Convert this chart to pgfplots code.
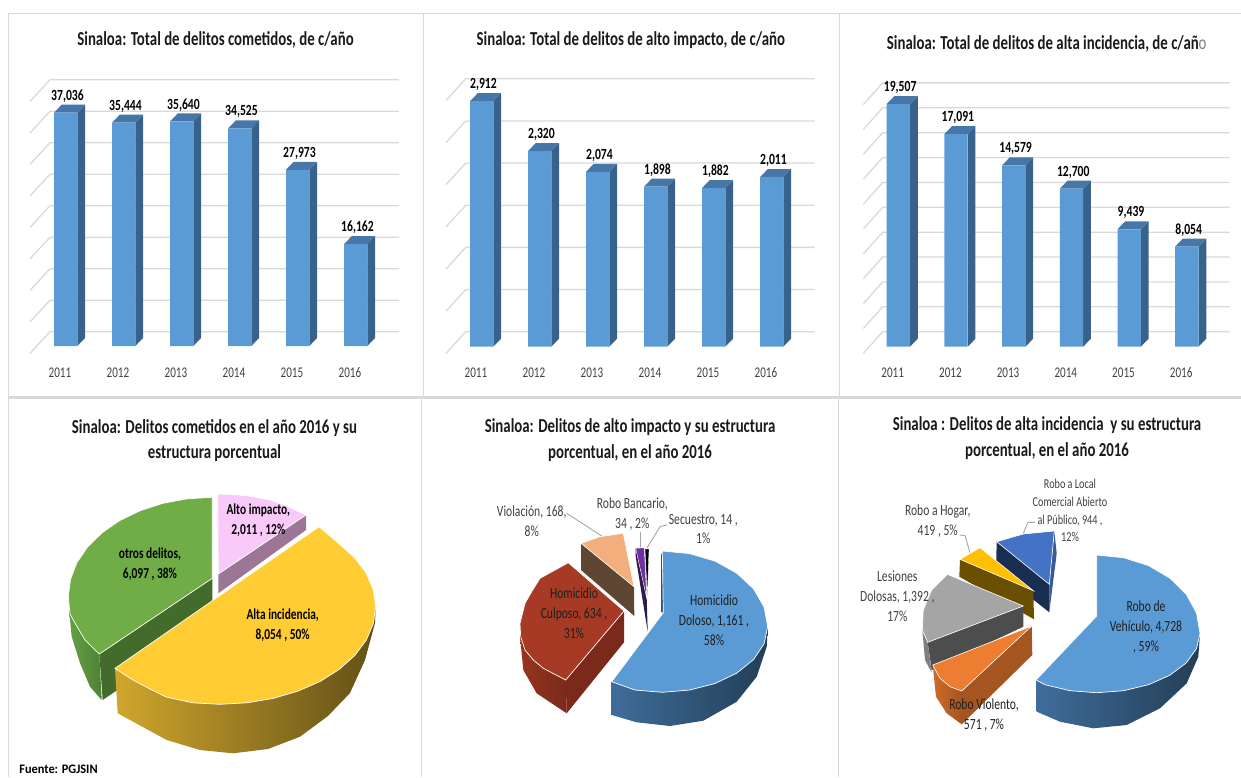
\documentclass[border=0pt]{standalone}
\usepackage{fontspec}
\setmainfont[FakeStretch=0.75]{Carlito}
\newfontfamily\srcfont[FakeStretch=0.95]{Carlito}
\usepackage{pgfplots}
\pgfplotsset{compat=1.18}

\definecolor{gridc}{HTML}{D9D9D9}
\definecolor{framec}{HTML}{D9D9D9}
\definecolor{barf}{HTML}{5B9BD5}
\definecolor{bars}{HTML}{39628A}
\definecolor{bart}{HTML}{4677A8}
\definecolor{lblc}{HTML}{404040}
\definecolor{titc}{HTML}{1A1A1A}
\definecolor{facec}{HTML}{1F1F1F}

% one filled or stroked outline, points in page pixels
\newcommand{\poly}[2]{\addplot[#1] coordinates {#2};}
% text at x, baseline y
\newcommand{\lbl}[4]{\node[anchor=base,inner sep=0pt,text=#3] at (axis cs:#1,#2) {#4};}
\newcommand{\ttl}[3]{\lbl{#1}{#2}{titc}{\fontsize{19.8}{19.8}\selectfont\bfseries #3}}
\newcommand{\lab}[3]{\lbl{#1}{#2}{lblc}{\fontsize{15.5}{15.5}\selectfont #3}}
\newcommand{\labs}[3]{\lbl{#1}{#2}{lblc}{\fontsize{13.6}{13.6}\selectfont #3}}
\newcommand{\labd}[3]{\lbl{#1}{#2}{facec}{\fontsize{15.5}{15.5}\selectfont #3}}
\newcommand{\labb}[3]{\lbl{#1}{#2}{black}{\fontsize{15.2}{15.2}\selectfont\bfseries #3}}

% back wall line of the 3d column charts
\newcommand{\wall}[1]{%
  \begingroup
  \pgfkeys{/pgf/fpu=true,/pgf/fpu/output format=fixed}%
  \pgfmathparse{#1+\wup}\xdef\wya{\pgfmathresult}%
  \pgfmathparse{#1+\wup-\wdn}\xdef\wyb{\pgfmathresult}%
  \endgroup
  \edef\tmp{\noexpand\addplot[gridc,line width=1.3pt] coordinates {(\wxa,\wyb) (\wxb,\wya) (\wxc,\wya)};}\tmp
}
% side and top of one column
\newcommand{\tdbar}[2]{%
  \begingroup
  \pgfkeys{/pgf/fpu=true,/pgf/fpu/output format=fixed}%
  \pgfmathparse{#2+\dyy}\xdef\vt{\pgfmathresult}%
  \pgfmathparse{#1+\bw}\xdef\xr{\pgfmathresult}%
  \pgfmathparse{#1-\bw}\xdef\xl{\pgfmathresult}%
  \pgfmathparse{#1+\bw+\dxx}\xdef\xrr{\pgfmathresult}%
  \pgfmathparse{#1-\bw+\dxx}\xdef\xll{\pgfmathresult}%
  \endgroup
  \edef\tmp{\noexpand\addplot[fill=bars,draw=none] coordinates {(\xr,0) (\xrr,\dyy) (\xrr,\vt) (\xr,#2)};
    \noexpand\addplot[fill=bart,draw=none] coordinates {(\xl,#2) (\xr,#2) (\xrr,\vt) (\xll,\vt)};}\tmp
}

\pgfplotsset{
  barpanel/.style={
    scale only axis,anchor=south west,clip=false,
    axis line style={draw=none},tick style={draw=none},
    ytick=\empty,xtick={0,1,2,3,4,5},
    xticklabels={2011,2012,2013,2014,2015,2016},
    xticklabel style={anchor=base,yshift=-18pt,xshift=-5.7pt,font=\fontsize{14.8}{14.8}\selectfont,text=lblc},
  },
  frontbars/.style={
    ybar,bar width=23.3pt,fill=barf,draw=none,
    nodes near coords,
    /pgf/number format/.cd,fixed,precision=0,1000 sep={,},assume math mode=true,
    /pgfplots/.cd,
    nodes near coords style={anchor=center,yshift=16.7pt,xshift=1.8pt,text=black,
      font=\fontsize{15.5}{15.5}\selectfont\bfseries},
  },
}

\begin{document}
\begin{tikzpicture}[x=1pt,y=1pt]
\useasboundingbox (0,0) rectangle (1241pt,777pt);

% page layer: frames and the three pies, in pixels of the reference
\begin{axis}[at={(0pt,0pt)},anchor=south west,scale only axis,width=1241pt,height=777pt,
  xmin=0,xmax=1241,ymin=0,ymax=777,y dir=reverse,hide axis,clip=false]
\poly{framec,line width=1pt}{(8,13) (1241,13)}
\poly{framec,line width=1pt}{(8,13) (8,777)}
\poly{framec,line width=1pt}{(423,13) (423,397)}
\poly{framec,line width=1pt}{(839,13) (839,397)}
\poly{framec,line width=1pt}{(421.7,397) (421.7,777)}
\poly{framec,line width=1pt}{(838,397) (838,777)}
\poly{framec,line width=3pt}{(8,397) (1241,397)}

\ttl{215.5}{45.5}{Sinaloa: Total de delitos cometidos, de c/año}
\ttl{630.8}{45.5}{Sinaloa: Total de delitos de alto impacto, de c/año}
\ttl{1046.7}{49}{Sinaloa: Total de delitos de alta incidencia, de c/añ{\color{gray}\mdseries o}}
\ttl{214.5}{433}{Sinaloa: Delitos cometidos en el año 2016 y su}
\ttl{214.5}{458}{estructura porcentual}
\ttl{630}{432}{Sinaloa: Delitos de alto impacto y su estructura}
\ttl{630}{458}{porcentual, en el año 2016}
\ttl{1047}{430}{Sinaloa : Delitos de alta incidencia\, y su estructura}
\ttl{1047}{456}{porcentual, en el año 2016}

% pie 1
\poly{fill={rgb,255:red,155;green,118;blue,150},draw=none}{(218.3,574) (306,515) (306,530) (218.3,593.3)}
\poly{fill={rgb,255:red,249;green,201;blue,250},draw=white,line width=.7pt}{(218.3,574) (217.7,494) (235,494.5) (252,496.5) (270,500) (288,506.5) (306,515) (218.3,574)}
\poly{left color={rgb,255:red,100;green,160;blue,68},right color={rgb,255:red,78;green,130;blue,52},draw=none}{(69,600) (69,610) (71.7,636.7) (80,663) (90,686.7) (101.7,700) (99.3,654)}
\poly{fill={rgb,255:red,67;green,107;blue,43},draw=none}{(212.3,578.3) (99.3,654) (102.7,700) (212.3,625)}
\poly{fill={rgb,255:red,112;green,173;blue,71},draw=white,line width=.7pt}{(212.3,578.3) (212.3,497.3) (187.3,498.8) (163,503.3) (140.3,510.6) (119.7,520.6) (102,532.8) (87.6,547) (76.9,562.7) (70.5,579.4) (68.3,596.7) (70,614) (75,623) (85,640) (99.3,654) (212.3,578.3)}
\poly{left color={rgb,255:red,208;green,166;blue,44},middle color={rgb,255:red,135;green,105;blue,31},right color={rgb,255:red,98;green,80;blue,24},draw=none}{(115,668.3) (117.7,713.3) (166.7,740) (200,750) (233,753.3) (268,749) (300,736.7) (328,716) (350,693) (365,660) (375,623) (375.7,606.7)}
\poly{fill={rgb,255:red,255;green,205;blue,51},draw=white,line width=.7pt}{(319,526.7) (339.2,543.9) (354.8,557.9) (366.3,573.3) (373.3,589.7) (375.7,606.7) (373.3,623.7) (366.3,640.1) (354.8,655.5) (339.2,669.4) (320,681.5) (297.7,691.2) (273.1,698.4) (246.8,702.8) (219.7,704.3) (192.6,702.8) (166.3,697) (150,689) (133,680) (115,668.3) (319,526.7)}
\labb{258.3}{514.5}{Alto impacto,}
\labb{258.3}{534.5}{2,011 , 12\%}
\labb{150}{558.5}{otros delitos,}
\labb{150}{578}{6,097 , 38\%}
\labb{282.7}{619.5}{Alta incidencia,}
\labb{282.7}{639.5}{8,054 , 50\%}
\lbl{58.5}{773.5}{black}{\srcfont\fontsize{13}{13}\selectfont\bfseries Fuente: PGJSIN}

% pie 2
\poly{gray!70,line width=.9pt}{(566.7,513.3) (601.7,536)}
\poly{gray!70,line width=.9pt}{(640,531.7) (640,547.3)}
\poly{gray!70,line width=.9pt}{(666.7,525) (660,526.7) (646.7,548.3)}
\poly{fill={rgb,255:red,95;green,70;blue,50},draw=none}{(581,543.3) (634,586.7) (634.3,616) (581,570)}
\poly{fill={rgb,255:red,242;green,174;blue,124},draw=white,line width=.6pt}{(581,543.3) (600,536.7) (623.3,533.3) (634,586.7) (581,543.3)}
\poly{fill={rgb,255:red,42;green,26;blue,78},draw=none}{(635.7,548.3) (646.7,598.3) (647.7,631.7) (635.7,556.7)}
\poly{fill={rgb,255:red,112;green,48;blue,160},draw=white,line width=.4pt}{(635.7,548.3) (644.3,547.7) (646.7,598.3) (635.7,548.3)}
\poly{fill=black,draw=white,line width=.3pt}{(645,549) (649,549) (647.3,596.7) (645,549)}
\poly{left color={rgb,255:red,150;green,52;blue,32},right color={rgb,255:red,122;green,42;blue,26},draw=none}{(520,623.3) (520,636.7) (523.3,670) (536.7,693.3) (566.7,713.3) (565.7,680)}
\poly{fill={rgb,255:red,123;green,41;blue,27},draw=none}{(565.7,680) (624,611) (624,642.3) (566.7,713.3)}
\poly{fill={rgb,255:red,166;green,58;blue,36},draw=white,line width=.7pt}{(624,611) (568.3,562.7) (540,578.3) (531.7,591.7) (525,603.3) (520,623.3) (520.7,636.7) (525,650) (533.3,660) (543.3,668.3) (565.7,680) (624,611)}
\poly{fill={rgb,255:red,50;green,80;blue,110},draw=none}{(661,556) (662.3,551) (663.3,612.7) (661,612)}
\poly{left color={rgb,255:red,63;green,109;blue,154},middle color={rgb,255:red,47;green,84;blue,120},right color={rgb,255:red,35;green,62;blue,87},draw=none}{(611.7,681.7) (611.7,715) (636.7,722.3) (670,726) (703.3,720.7) (736.7,701.7) (756.7,676.7) (766.7,646.7) (767.7,626.7)}
\poly{fill=barf,draw=white,line width=.7pt}{(663.3,612.7) (662.3,551) (689.6,553.6) (715,561.1) (736.8,573.2) (753.6,588.9) (764.1,607.1) (767.7,626.7) (764.1,643.7) (753.6,659.5) (736.8,673.1) (715,683.5) (689.6,690) (662.3,692.3) (635,690) (611.7,681.7) (663.3,612.7)}
\lab{531.7}{516}{Violación, 168,}
\lab{531.7}{536}{8\%}
\lab{632.3}{508.5}{Robo Bancario,}
\lab{632.3}{528.5}{34 , 2\%}
\lab{703.3}{524.5}{Secuestro, 14 ,}
\lab{703.3}{543.8}{1\%}
\labd{714}{605}{Homicidio}
\labd{714}{625}{Doloso, 1,161 ,}
\labd{714}{645}{58\%}
\labd{574}{598.8}{Homicidio}
\labd{574}{618.8}{Culposo, 634 ,}
\labd{574}{638.8}{31\%}

% pie 3
\poly{gray!70,line width=.9pt}{(960,535) (965,535.7) (970,552.7)}
\poly{gray!70,line width=.9pt}{(1035,522.3) (1028,522.3) (1023.3,533.3)}
\poly{fill={rgb,255:red,58;green,90;blue,148},draw=none}{(1054.3,531) (1049.3,584.3) (1049.3,612.3) (1056.7,553.3)}
\poly{fill={rgb,255:red,26;green,46;blue,82},draw=none}{(996.7,541.7) (1049.3,584.3) (1049.3,612.3) (996,570)}
\poly{fill={rgb,255:red,68;green,114;blue,196},draw=white,line width=.6pt}{(996.7,541.7) (1023.3,534) (1054.3,531) (1049.3,584.3) (996.7,541.7)}
\poly{fill={rgb,255:red,107;green,79;blue,0},draw=none}{(960,559.3) (1033.3,590.7) (1034,619.3) (959.3,576.7)}
\poly{fill={rgb,255:red,255;green,192;blue,0},draw=white,line width=.6pt}{(960,559.3) (980,547.7) (1033.3,590.7) (960,559.3)}
\poly{fill={rgb,255:red,127;green,127;blue,127},draw=none}{(922.3,630) (927.7,642.3) (931.7,672.7) (925,660)}
\poly{fill={rgb,255:red,77;green,77;blue,77},draw=none}{(927.7,642.3) (1023.3,606) (1023.3,626.7) (931.7,670)}
\poly{fill={rgb,255:red,165;green,165;blue,165},draw=white,line width=.6pt}{(947.3,574.3) (931.7,590) (923.3,610) (922.3,630) (927.7,642.3) (1023.3,606) (947.3,574.3)}
\poly{left color={rgb,255:red,205;green,108;blue,42},right color={rgb,255:red,166;green,84;blue,32},draw=none}{(932.7,665) (936,696.7) (946.7,713.3) (961.7,724.3) (961.7,691)}
\poly{fill={rgb,255:red,165;green,85;blue,31},draw=none}{(961.7,691) (1031.7,626) (1032.3,655) (961.7,724.3)}
\poly{fill={rgb,255:red,237;green,125;blue,49},draw=white,line width=.6pt}{(1031.7,626) (932.7,665) (940,678.3) (950,686.7) (961.7,691) (1031.7,626)}
\poly{left color={rgb,255:red,63;green,109;blue,154},middle color={rgb,255:red,47;green,84;blue,120},right color={rgb,255:red,35;green,62;blue,87},draw=none}{(1036,680) (1036.7,711.7) (1060,721.7) (1093.3,728.3) (1126.7,725) (1160,708.3) (1186.7,683.3) (1198.3,656.7) (1200,633.3)}
\poly{fill=barf,draw=white,line width=.7pt}{(1096.7,616) (1096.7,555) (1123.5,557.7) (1148.4,565.5) (1169.7,578) (1186.2,594.2) (1196.5,613) (1200,633.3) (1196.5,648.7) (1186.2,663) (1169.7,675.3) (1148.4,684.7) (1123.5,690.7) (1096.7,692.7) (1070,690.7) (1045,684.7) (1036,680) (1096.7,616)}
\labs{1070}{488}{Robo a Local}
\labs{1070}{506}{Comercial Abierto}
\labs{1070}{524}{al Público, 944 ,}
\labs{1070}{541}{12\%}
\lab{937.7}{515}{Robo a Hogar,}
\lab{937.7}{535.5}{419 , 5\%}
\lab{897.3}{581.5}{Lesiones}
\lab{897.3}{601}{Dolosas, 1,392 ,}
\lab{897.3}{621}{17\%}
\labd{984}{709.5}{Robo Violento,}
\labd{984}{729.5}{571 , 7\%}
\labd{1146}{611.5}{Robo de}
\labd{1146}{631.5}{Vehículo, 4,728}
\labd{1146}{651.5}{, 59\%}
\end{axis}

% columns: total
\def\bw{.2009}\def\dxx{.1328}\def\dyy{1270}\def\wup{2270}\def\wdn{3444}\def\wxa{-.615}\def\wxb{-.27}\def\wxc{5.747}
\begin{axis}[barpanel,at={(25pt,417pt)},width=380pt,height=290pt,
  xmin=-.7012,xmax=5.8505,ymin=-2222,ymax=43810]
\wall{0}\wall{5000}\wall{10000}\wall{15000}\wall{20000}\wall{25000}\wall{30000}\wall{35000}\wall{40000}
\tdbar{0}{37036}\tdbar{1}{35444}\tdbar{2}{35640}\tdbar{3}{34525}\tdbar{4}{27973}\tdbar{5}{16162}
\addplot[frontbars] coordinates {(0,37036) (1,35444) (2,35640) (3,34525) (4,27973) (5,16162)};
\end{axis}

% columns: alto impacto
\def\bw{.2009}\def\dxx{.1328}\def\dyy{94.9}\def\wup{177.9}\def\wdn{257.4}\def\wxa{-.615}\def\wxb{-.2753}\def\wxc{5.742}
\begin{axis}[barpanel,at={(440pt,417pt)},width=380pt,height=290pt,
  xmin=-.7184,xmax=5.8333,ymin=-157.8,ymax=3282.3]
\wall{0}\wall{500}\wall{1000}\wall{1500}\wall{2000}\wall{2500}\wall{3000}
\tdbar{0}{2912}\tdbar{1}{2320}\tdbar{2}{2074}\tdbar{3}{1898}\tdbar{4}{1882}\tdbar{5}{2011}
\addplot[frontbars] coordinates {(0,2912) (1,2320) (2,2074) (3,1898) (4,1882) (5,2011)};
\end{axis}

% columns: alta incidencia
\def\bw{.2022}\def\dxx{.1334}\def\dyy{643}\def\wup{1206}\def\wdn{1744}\def\wxa{-.6078}\def\wxb{-.2716}\def\wxc{5.742}
\begin{axis}[barpanel,at={(858pt,417pt)},width=377pt,height=285pt,
  xmin=-.6997,xmax=5.834,ymin=-1069,ymax=21841]
\wall{0}\wall{2000}\wall{4000}\wall{6000}\wall{8000}\wall{10000}\wall{12000}\wall{14000}\wall{16000}\wall{18000}\wall{20000}
\tdbar{0}{19507}\tdbar{1}{17091}\tdbar{2}{14579}\tdbar{3}{12700}\tdbar{4}{9439}\tdbar{5}{8054}
\addplot[frontbars] coordinates {(0,19507) (1,17091) (2,14579) (3,12700) (4,9439) (5,8054)};
\end{axis}
\end{tikzpicture}
\end{document}
